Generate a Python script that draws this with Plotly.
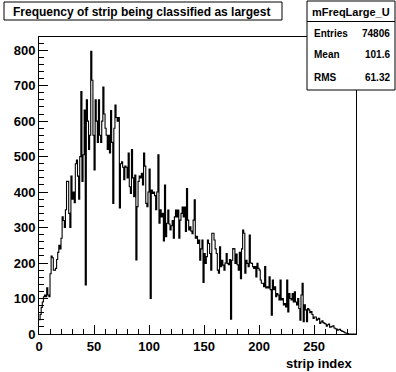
import plotly.graph_objects as go

# ---- data (entries per strip) ----
counts_000_056 = [40, 55, 75, 90, 105, 110, 105, 130, 110, 105,
                  170, 220, 215, 180, 180, 185, 210, 230, 250, 240,
                  270, 330, 320, 300, 350, 430, 430, 340, 300, 445,
                  380, 400, 370, 480, 490, 445, 380, 500, 683, 430,
                  505, 631, 138, 660, 600, 520, 560, 797, 715, 560,
                  462, 660, 600, 540, 660, 560, 540]
counts_057_112 = [600, 696, 620, 580, 560, 520, 560, 510, 630, 540,
                  368, 580, 645, 610, 600, 610, 355, 480, 485, 470,
                  435, 473, 470, 440, 510, 415, 396, 520, 440, 387,
                  448, 209, 359, 430, 445, 440, 453, 420, 510, 473,
                  368, 359, 400, 465, 100, 406, 396, 400, 390, 350,
                  400, 505, 312, 350, 330, 340]
counts_113_172 = [262, 420, 274, 312, 349, 310, 293, 305, 320, 270,
                  330, 349, 330, 349, 270, 321, 340, 358, 330, 358,
                  289, 410, 321, 293, 302, 290, 283, 321, 378, 270,
                  275, 255, 265, 208, 240, 265, 145, 227, 199, 218,
                  265, 255, 227, 180, 284, 284, 265, 240, 227, 180,
                  171, 246, 190, 208, 194, 180, 200, 227, 199, 195]
counts_173_230 = [210, 42, 208, 241, 240, 199, 225, 195, 180, 230,
                  156, 240, 293, 284, 171, 208, 199, 190, 279, 200,
                  199, 190, 185, 190, 161, 199, 185, 180, 152, 143,
                  143, 133, 190, 130, 133, 130, 161, 125, 53, 152,
                  125, 133, 105, 114, 110, 96, 152, 96, 100, 82,
                  86, 76, 152, 62, 114, 100, 96, 114]
counts_231_287 = [90, 119, 90, 82, 100, 72, 39, 110, 143, 35,
                  82, 68, 35, 72, 68, 60, 63, 55, 44, 48,
                  48, 39, 42, 44, 30, 34, 37, 32, 30, 28,
                  22, 26, 28, 19, 20, 22, 23, 17, 15, 14,
                  11, 12, 13, 10, 8, 7, 5, 3, 2, 1,
                  0, 0, 0, 0, 0, 0, 0]

counts = counts_000_056 + counts_057_112 + counts_113_172 + counts_173_230 + counts_231_287
n_strips = len(counts)
bin_edges = list(range(n_strips + 1))

x_tick_vals = [0, 50, 100, 150, 200, 250]
y_tick_vals = [0, 100, 200, 300, 400, 500, 600, 700, 800]

hist_name = "mFreqLarge_U"
stat_labels = ["Entries", "Mean", "RMS"]
stat_values = ["74806", "101.6", "61.32"]
title_text = "Frequency of strip being classified as largest"
x_title = "strip index"

# ---- figure ----
W, H = 396, 372
L, R, T, B = 39, 40, 37, 38
pw, ph = W - L - R, H - T - B


def px(xp):
    return (xp - L) / pw


def py(yp):
    return (H - B - yp) / ph


FONT = "Liberation Sans, Arial, Helvetica, sans-serif"

fig = go.Figure()
fig.add_trace(go.Scatter(
    x=bin_edges,
    y=counts + [counts[-1]],
    mode="lines",
    line=dict(color="black", width=1.1, shape="hv"),
    hoverinfo="skip",
    showlegend=False,
))

axis_common = dict(
    showgrid=False, zeroline=False,
    showline=True, linecolor="black", linewidth=1, mirror=True,
    ticks="inside", ticklen=9, tickcolor="black", tickwidth=1,
    tickfont=dict(family=FONT, size=13, color="black", weight="bold"),
)

fig.update_layout(
    width=W, height=H,
    margin=dict(l=L, r=R, t=T, b=B, pad=0),
    paper_bgcolor="white", plot_bgcolor="white",
    xaxis=dict(range=[0, 288], tickvals=x_tick_vals,
               minor=dict(ticks="inside", ticklen=5, dtick=10, tick0=0, tickcolor="black"),
               **axis_common),
    yaxis=dict(range=[0, 837], tickvals=y_tick_vals,
               minor=dict(ticks="inside", ticklen=5, dtick=20, tick0=0, tickcolor="black"),
               **axis_common),
)

# title box
fig.add_shape(type="rect", xref="paper", yref="paper",
              x0=px(4), x1=px(282), y0=py(20), y1=py(2),
              line=dict(color="black", width=1), fillcolor="white", layer="above")
fig.add_annotation(xref="paper", yref="paper", x=px(141), y=py(11.5),
                   text=title_text, showarrow=False, xanchor="center", yanchor="middle",
                   font=dict(family=FONT, size=12, color="black", weight="bold"))

# stats box
fig.add_shape(type="rect", xref="paper", yref="paper",
              x0=px(307), x1=px(395), y0=py(90), y1=py(1),
              line=dict(color="black", width=1), fillcolor="white", layer="above")
fig.add_shape(type="line", xref="paper", yref="paper",
              x0=px(307), x1=px(395), y0=py(21.5), y1=py(21.5),
              line=dict(color="black", width=1), layer="above")
fig.add_annotation(xref="paper", yref="paper", x=px(351), y=py(12),
                   text=hist_name, showarrow=False, xanchor="center", yanchor="middle",
                   font=dict(family=FONT, size=11, color="black", weight="bold"))
for i, (lab, val) in enumerate(zip(stat_labels, stat_values)):
    yy = py(33 + 22 * i)
    fig.add_annotation(xref="paper", yref="paper", x=px(312), y=yy, text=lab,
                       showarrow=False, xanchor="left", yanchor="middle",
                       font=dict(family=FONT, size=10, color="black", weight="bold"))
    fig.add_annotation(xref="paper", yref="paper", x=px(392), y=yy, text=val,
                       showarrow=False, xanchor="right", yanchor="middle",
                       font=dict(family=FONT, size=10, color="black", weight="bold"))

# x-axis title (right aligned, ROOT style)
fig.add_annotation(xref="paper", yref="paper", x=px(355), y=py(363),
                   text=x_title, showarrow=False, xanchor="right", yanchor="middle",
                   font=dict(family=FONT, size=13, color="black", weight="bold"))

fig.write_html("out.html",
               config={"displayModeBar": False, "staticPlot": True},
               post_script="document.body.style.margin='0';document.body.style.overflow='hidden';")
